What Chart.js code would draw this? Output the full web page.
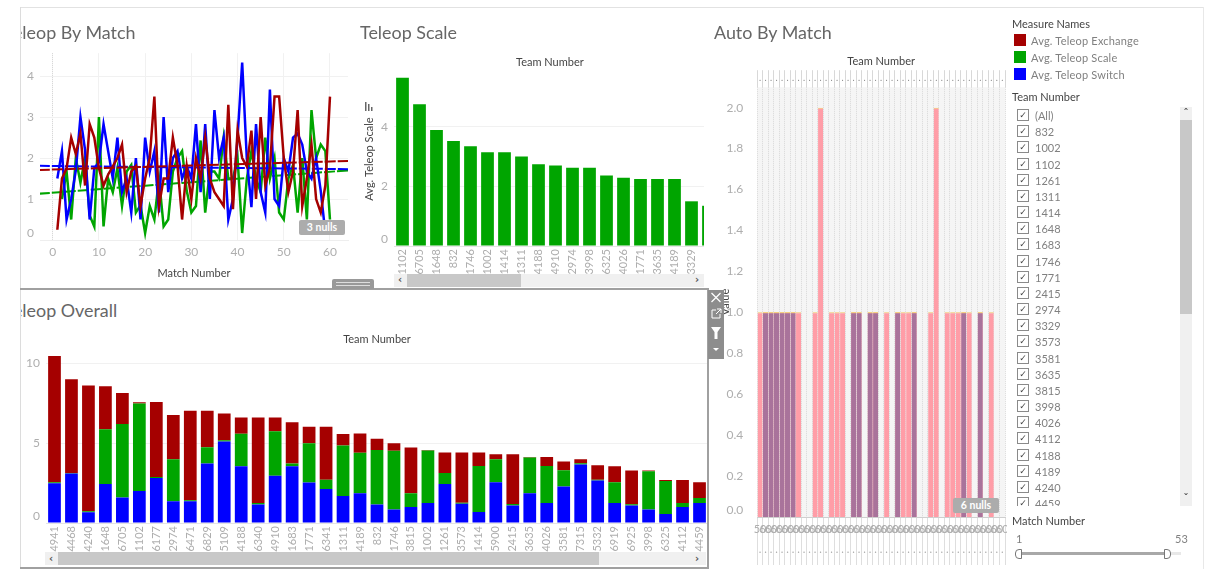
<!DOCTYPE html>
<html>
<head>
<meta charset="utf-8">
<script src="https://cdn.jsdelivr.net/npm/chart.js@4"></script>
<style>
html, body { margin: 0; padding: 0; background: #fff; }
body { width: 1209px; height: 570px; position: relative; overflow: hidden; font-family: Lato, "Open Sans", sans-serif; }
.box { position: absolute; overflow: hidden; }
.abs { position: absolute; white-space: nowrap; }
.title { font-size: 17.9px; color: #666; line-height: 24px; }
.head { font-size: 11px; color: #444; }
.leg { font-size: 11px; color: #808080; letter-spacing: 0.2px; }
.swatch { position: absolute; left: 1014px; width: 12px; height: 12px; }
.nulls { position: absolute; width: 46px; height: 15px; line-height: 15px; background: #acacac; border-radius: 2px; color: #fff; font-size: 10.5px; font-weight: bold; text-align: center; }
.check { position: absolute; left: 1017px; width: 10px; height: 10px; border: 1px solid #8a8a8a; color: #444; font: 9px/10px "DejaVu Sans"; text-align: center; }
.team { position: absolute; left: 1035px; font-size: 11px; color: #808080; line-height: 14px; }
.track { position: absolute; background: #f0f0f0; }
.thumb { position: absolute; background: #c8c8c8; }
.arrow { position: absolute; font: bold 10px/12px "DejaVu Sans"; color: #555; width: 12px; text-align: center; }
</style>
</head>
<body>
<div class="box" style="left:20px;top:40px;width:330px;height:245px"><canvas id="lineChart" width="330" height="245"></canvas></div>
<div class="box" style="left:360px;top:51px;width:344px;height:223px"><canvas id="scaleChart" width="357" height="223"></canvas></div>
<div class="box" style="left:20px;top:329px;width:688px;height:223px"><canvas id="overallChart" width="688" height="223"></canvas></div>
<div class="box" style="left:719px;top:51px;width:288px;height:514px"><canvas id="autoChart" width="288" height="514"></canvas></div>

<!-- dashboard frame -->
<div class="abs" style="left:20px;top:7px;width:1183px;height:1px;background:#e2e2e2"></div>
<div class="abs" style="left:20px;top:7px;width:1px;height:562px;background:#dcdcdc"></div>
<div class="abs" style="left:1203px;top:7px;width:1px;height:562px;background:#e8e8e8"></div>
<div class="abs" style="left:20px;top:288px;width:688px;height:2px;background:#a0a0a0"></div>
<div class="abs" style="left:707px;top:288px;width:2px;height:281px;background:#a0a0a0"></div>
<div class="abs" style="left:20px;top:567px;width:689px;height:2px;background:#a0a0a0"></div>
<div class="abs" style="left:332px;top:279px;width:42px;height:10px;background:#999;border-radius:2px 2px 0 0"></div>
<div class="abs" style="left:336px;top:282px;width:34px;height:1px;background:#ddd"></div>
<div class="abs" style="left:336px;top:285px;width:34px;height:1px;background:#ddd"></div>

<!-- titles clipped at the pane edge -->
<div class="box" style="left:21px;top:20px;width:320px;height:26px"><div class="abs title" style="left:-16.5px;top:0">Teleop By Match</div></div>
<div class="abs title" style="left:360px;top:20px">Teleop Scale</div>
<div class="abs title" style="left:714px;top:20px">Auto By Match</div>
<div class="box" style="left:21px;top:298px;width:320px;height:26px"><div class="abs title" style="left:-16.5px;top:0">Teleop Overall</div></div>
<!-- centred on the visible part of the scrolled pane, not the whole axis -->
<div class="abs head" style="left:516px;top:55px">Team Number</div>

<div class="nulls" style="left:299px;top:220px">3 nulls</div>
<div class="nulls" style="left:953px;top:498px">6 nulls</div>

<!-- sort icon next to the scale axis -->
<svg class="abs" style="left:365px;top:102px" width="10" height="10"><rect x="0" y="0" width="1.5" height="9" fill="#666"/><rect x="3" y="2" width="1.5" height="7" fill="#666"/><rect x="6" y="5" width="1.5" height="4" fill="#666"/></svg>

<!-- scrollbars -->
<div class="track" style="left:394px;top:274px;width:310px;height:13px"></div>
<div class="thumb" style="left:407px;top:274px;width:114px;height:13px"></div>
<div class="arrow" style="left:394px;top:274px">&#8249;</div>
<div class="arrow" style="left:691px;top:274px">&#8250;</div>
<div class="track" style="left:45px;top:552px;width:661px;height:13px"></div>
<div class="thumb" style="left:58px;top:552px;width:541px;height:13px"></div>
<div class="arrow" style="left:45px;top:553px">&#8249;</div>
<div class="arrow" style="left:691px;top:553px">&#8250;</div>

<!-- floating toolbar -->
<div class="abs" style="left:708px;top:290px;width:16px;height:69px;background:#8d8d8d"></div>
<svg class="abs" style="left:708px;top:290px" width="16" height="69">
  <path d="M3.5 3 L12.5 12 M12.5 3 L3.5 12" stroke="#fff" stroke-width="1.3"/>
  <path d="M4 20 H8 M4 20 V28 H12 V24 M9 19 H13 V23 M13 19 L8 24" stroke="#fff" stroke-width="1" fill="none"/>
  <path d="M3 37 H13 L9.5 42 V49 H6.5 V42 Z" fill="#fff"/>
  <path d="M5 58 H11 L8 61 Z" fill="#fff"/>
</svg>

<!-- legend and filters -->
<div class="abs head" style="left:1012px;top:17px">Measure Names</div>
<div class="swatch" style="top:34px;background:#a50000"></div>
<div class="swatch" style="top:51px;background:#00a500"></div>
<div class="swatch" style="top:68px;background:#0000ff"></div>
<div class="abs leg" style="left:1031px;top:34px">Avg. Teleop Exchange</div>
<div class="abs leg" style="left:1031px;top:51px">Avg. Teleop Scale</div>
<div class="abs leg" style="left:1031px;top:68px">Avg. Teleop Switch</div>
<div class="abs head" style="left:1012px;top:90px">Team Number</div>
<div class="box" id="teamList" style="left:1005px;top:107px;width:175px;height:399px"></div>
<div class="track" style="left:1180px;top:107px;width:12px;height:399px"></div>
<div class="thumb" style="left:1180px;top:120px;width:12px;height:194px"></div>
<div class="arrow" style="left:1180px;top:108px">&#710;</div>
<div class="arrow" style="left:1180px;top:493px">&#711;</div>
<div class="abs head" style="left:1012px;top:514px">Match Number</div>
<div class="abs leg" style="left:1016px;top:532px">1</div>
<div class="abs leg" style="left:1175px;top:532px">53</div>
<div class="abs" style="left:1019px;top:552px;width:162px;height:3px;background:#e8e8e8"></div>
<div class="abs" style="left:1019px;top:552px;width:147px;height:3px;background:#a8a8a8"></div>
<div class="abs" style="left:1015px;top:549px;width:5px;height:8px;border:1px solid #777;border-radius:4px 0 0 4px;background:#fff"></div>
<div class="abs" style="left:1164px;top:549px;width:5px;height:8px;border:1px solid #777;border-radius:0 4px 4px 0;background:#fff"></div>

<script>
const red = '#a50000', green = '#00a500', blue = '#0000ff';
const tickColor = '#aeaeae', gridColor = '#f1f1f1', textColor = '#444';

const matchNumbers = [1,2,3,4,5,6,7,8,9,10,11,12,13,14,15,16,17,18,19,20,21,22,23,24,25,26,27,28,29,30,31,32,33,34,35,36,37,38,39,40,41,42,43,44,45,46,47,48,49,50,51,52,53,54,55,56,57,58,59,60];
const matchExchange = [0.25,1.5,1.75,2.5,2.1,2.6,1.33,2.83,2.5,1.75,1.33,1.6,1.8,2,2.33,1.17,1.67,1.8,0.83,1.5,2,3.5,0.83,1.5,1.5,2.5,1.83,0.5,1.8,1,2,1.5,2.5,1.5,1.17,1,0.83,3.3,0.75,2.67,2,1.8,2.67,1,3,1.33,1.75,3.5,3.5,2,1.17,1.67,3.17,0.83,1.5,2.33,1,0.67,1.33,3.5];
const matchSwitch = [1.5,2.17,0.5,1,1.7,3,2.2,0.5,1.75,1.9,2.83,2.17,1.5,2.5,1.17,1.5,0.67,2,0.5,2.5,1.67,2.17,0.67,3,1.17,2,2.17,1.5,1.8,1.5,2.83,1.17,2.83,1,3.17,2,2.5,0.5,1,2.5,4.33,2,0.8,2.83,1.17,0.67,3.67,1,0.83,2,1.67,2.5,2.6,2.33,1.67,1.5,2,1.2,0.17,null];
const matchScale = [null,1,1.67,0.5,2,1.4,2,0.6,0.33,3,0.33,1.5,1.17,1.75,0.83,1.67,1.83,0.67,0.85,0.17,0.83,0.5,1.5,0.33,0.5,1.67,2,2.17,1.2,0.67,0.83,2.43,0.67,1.67,1.67,1.5,2.5,1.5,1.5,2,0.17,1.5,2.17,1.5,1.17,2.5,1.5,2,0.67,0.5,1.5,1.83,0.67,2,0.5,3.17,2,2.33,2.17,0.5];
const trendX = [-3, 64];
const trendExchange = [1.71, 1.93];
const trendSwitch = [1.81, 1.73];
const trendScale = [1.13, 1.70];

const scaleTeams = ['1102','6705','1648','832','1746','1002','1414','1311','4188','4910','2974','3998','6325','4026','1771','3635','4189','3329','3815'];
const scaleValues = [5.65,4.76,3.89,3.52,3.35,3.15,3.15,3.0,2.74,2.7,2.63,2.63,2.37,2.29,2.25,2.25,2.25,1.5,1.35];

const overallTeams = ['4941','4468','4240','1648','6705','1102','6177','2974','6471','6829','5109','4188','6340','4910','1683','1771','6341','1311','4189','832','1746','3815','1002','1261','3573','1414','5900','2415','3635','4026','3581','7315','5332','6919','6925','3998','6325','4112','4459'];
const overallSwitch = [2.48,3.09,0.67,2.44,1.59,2.0,2.82,1.36,1.36,3.72,5.09,3.55,1.15,2.96,3.55,2.53,2.13,1.69,1.86,1.15,0.84,1.0,1.25,2.44,1.21,0.69,2.55,1.09,1.86,1.25,2.28,3.65,2.65,1.25,1.09,0.84,0.56,1.0,1.25];
const overallScale = [0.06,0.04,0.06,3.42,4.59,5.47,0.06,2.63,0.06,1.02,0.08,2.03,0.1,2.78,0.17,2.46,0.58,3.15,2.53,3.42,3.67,0.86,3.28,0.69,0.06,2.88,1.44,0.1,2.23,2.32,1.02,0.08,0.06,1.29,0.08,2.4,2.07,0.25,0.31];
const overallExchange = [7.89,5.85,7.87,2.69,1.94,0.08,4.68,2.76,5.6,2.28,1.67,1.02,5.34,0.86,2.57,1.02,3.3,0.73,1.2,0.69,0.48,2.86,0.04,1.27,3.13,0.84,0.31,3.11,0.04,0.56,0.54,0.25,0.9,1.0,2.11,0.04,0.06,1.44,0.98];

const autoLabels = ['50','60','60','60','60','60','60','60','60','60','60','60','60','60','60','60','60','60','60','60','60','60','60','60','60','60','60','60','60','60','60','60','60','60','60','60','60','60','60','60','60','60','60','60','60'];
const autoPink = [1,1,1,1,1,1,1,1,null,null,1,2,null,1,1,1,null,1,1,null,1,1,null,1,null,1,1,1,1,null,null,1,2,null,1,1,1,1,1,null,1,null,1,null,null];
const autoPurple = [null,1,1,1,1,1,1,null,null,null,null,null,null,null,null,null,null,1,1,null,1,1,null,null,null,1,null,null,1,null,null,null,null,null,null,null,null,1,null,null,1,null,null,null,null];

const filterTeams = ['(All)','832','1002','1102','1261','1311','1414','1648','1683','1746','1771','2415','2974','3329','3573','3581','3635','3815','3998','4026','4112','4188','4189','4240','4459'];

// checklist on the right
const teamList = document.getElementById('teamList');
filterTeams.forEach((team, i) => {
    const top = 2 + i * 16.17;
    teamList.insertAdjacentHTML('beforeend',
        `<div class="check" style="left:12px;top:${top}px">&#10003;</div><div class="team" style="left:30px;top:${top}px">${team}</div>`);
});

Chart.defaults.font.family = 'Lato, "Open Sans", sans-serif';
Chart.defaults.animation = false;
Chart.defaults.responsive = false;
Chart.defaults.plugins.legend.display = false;
Chart.defaults.plugins.tooltip.enabled = false;

const fitWidth = (w) => (scale) => { scale.width = w; };
// drop the room Chart.js keeps for the outer rotated labels, the plots run edge to edge
const fitHeight = (h) => (scale) => { scale.height = h; scale.paddingLeft = 0; scale.paddingRight = 0; };
// Tableau pushes the bottom label up so it stays inside the pane
const liftZero = (fmt) => function (value) {
    const text = fmt ? value.toFixed(1) : String(value);
    return value === 0 ? [text, ''] : text;
};
const topTitle = (padding) => ({ display: true, text: 'Team Number', color: textColor, font: { size: 11, weight: 'normal' }, padding: padding, fullSize: false });

const yAxis = (width, max, step, extra) => Object.assign({
    min: 0, max: max,
    afterFit: fitWidth(width),
    grid: { color: gridColor, drawTicks: false },
    border: { display: false },
    ticks: { stepSize: step, includeBounds: false, color: tickColor, font: { size: 12 }, padding: 6, callback: liftZero(false) }
}, extra);

const teamAxis = (height) => ({
    afterFit: fitHeight(height),
    grid: { display: false, drawTicks: false },
    border: { color: '#e4e4e4' },
    ticks: { autoSkip: false, minRotation: 90, maxRotation: 90, color: tickColor, font: { size: 11 }, padding: 3 }
});

const lineSet = (values, color) => ({
    data: matchNumbers.map((m, i) => ({ x: m, y: values[i] })),
    borderColor: color, borderWidth: 2.5, pointRadius: 0, tension: 0
});
const trendSet = (values, color) => ({
    data: trendX.map((x, i) => ({ x: x, y: values[i] })),
    borderColor: color, borderWidth: 2, borderDash: [11, 2], pointRadius: 0, tension: 0
});

new Chart(document.getElementById('lineChart'), {
    type: 'line',
    data: {
        datasets: [
            trendSet(trendExchange, red),
            lineSet(matchExchange, red),
            trendSet(trendSwitch, blue),
            lineSet(matchSwitch, blue),
            trendSet(trendScale, green),
            lineSet(matchScale, green)
        ]
    },
    options: {
        layout: { padding: { top: 13, right: 2 } },
        scales: {
            x: {
                type: 'linear', min: -2.75, max: 63.9,
                afterFit: fitHeight(45),
                title: { display: true, text: 'Match Number', color: textColor, font: { size: 11 }, padding: { top: 0, bottom: 5 } },
                grid: { color: (c) => c.tick && c.tick.value === 0 ? '#cfcfcf' : gridColor, drawTicks: false },
                border: { color: '#eeeeee', dash: (c) => c.tick && c.tick.value === 0 ? [1, 1] : [] },
                ticks: { stepSize: 10, includeBounds: false, color: tickColor, font: { size: 12 }, padding: 5, maxRotation: 0 }
            },
            y: yAxis(20, 4.56, 1)
        }
    }
});

new Chart(document.getElementById('scaleChart'), {
    type: 'bar',
    data: {
        labels: scaleTeams,
        datasets: [{ data: scaleValues, backgroundColor: green, barPercentage: 0.75, categoryPercentage: 1 }]
    },
    options: {
        layout: { padding: { top: 21 } },
        scales: {
            x: teamAxis(28),
            y: yAxis(34, 5.84, 2, { title: { display: true, text: 'Avg. Teleop Scale', color: textColor, font: { size: 11 }, padding: { top: 3, bottom: 0 } } })
        }
    }
});

new Chart(document.getElementById('overallChart'), {
    type: 'bar',
    data: {
        labels: overallTeams,
        datasets: [
            { data: overallSwitch, backgroundColor: blue },
            { data: overallScale, backgroundColor: green },
            { data: overallExchange, backgroundColor: red }
        ].map((d) => Object.assign(d, { barPercentage: 0.75, categoryPercentage: 1 }))
    },
    options: {
        plugins: { title: topTitle({ top: 4, bottom: 4 }) },
        scales: {
            x: Object.assign(teamAxis(29), { stacked: true }),
            y: yAxis(26, 10.8, 5, { stacked: true })
        }
    }
});

// pale fill behind the dense team columns
const plotFill = {
    id: 'plotFill',
    beforeDatasetsDraw(chart) {
        const a = chart.chartArea;
        chart.ctx.save();
        chart.ctx.globalCompositeOperation = 'destination-over';
        chart.ctx.fillStyle = '#f5f5f5';
        chart.ctx.fillRect(a.left, a.top, a.width, a.height);
        chart.ctx.restore();
    }
};

const autoBar = (values, color) => ({
    data: values, backgroundColor: color,
    borderColor: '#f4c566', borderWidth: { top: 1, left: 0, right: 0, bottom: 0 }, borderSkipped: false,
    barPercentage: 0.93, categoryPercentage: 1
});

new Chart(document.getElementById('autoChart'), {
    type: 'bar',
    plugins: [plotFill],
    data: {
        labels: autoLabels,
        datasets: [
            Object.assign(autoBar(autoPurple, '#a9739b'), { order: 1 }),
            Object.assign(autoBar(autoPink, '#ff9da7'), { order: 2 })
        ]
    },
    options: {
        layout: { padding: { right: 2 } },
        plugins: { title: topTitle({ top: 4, bottom: 2 }) },
        scales: {
            x: {
                stacked: true,
                afterFit: fitHeight(48),
                grid: { color: '#d8d8d8', tickColor: '#dedede', tickLength: 48, offset: true, tickBorderDash: [] },
                border: { color: '#cfcfcf', dash: [1, 1] },
                ticks: { autoSkip: false, minRotation: 0, maxRotation: 0, color: tickColor, font: { size: 11, lineHeight: 0.9 }, padding: -40,
                    callback: function (value) { return [this.getLabelForValue(value), '', '.']; } }
            },
            xTop: {
                type: 'category', position: 'top', labels: autoLabels, offset: true,
                afterFit: fitHeight(17),
                grid: { drawOnChartArea: false, color: '#d8d8d8', tickLength: 17, offset: true },
                border: { display: false },
                ticks: { autoSkip: false, maxRotation: 0, color: '#888', font: { size: 9 }, padding: -13, callback: () => '.' }
            },
            y: yAxis(38.3, 2.1, 0.2, {
                title: { display: true, text: 'Value', color: textColor, font: { size: 11 }, padding: { top: 0, bottom: 0 } },
                grid: { display: false },
                ticks: { stepSize: 0.2, includeBounds: false, color: tickColor, font: { size: 12 }, padding: 6, callback: liftZero(true) }
            })
        }
    }
});
</script>
</body>
</html>
